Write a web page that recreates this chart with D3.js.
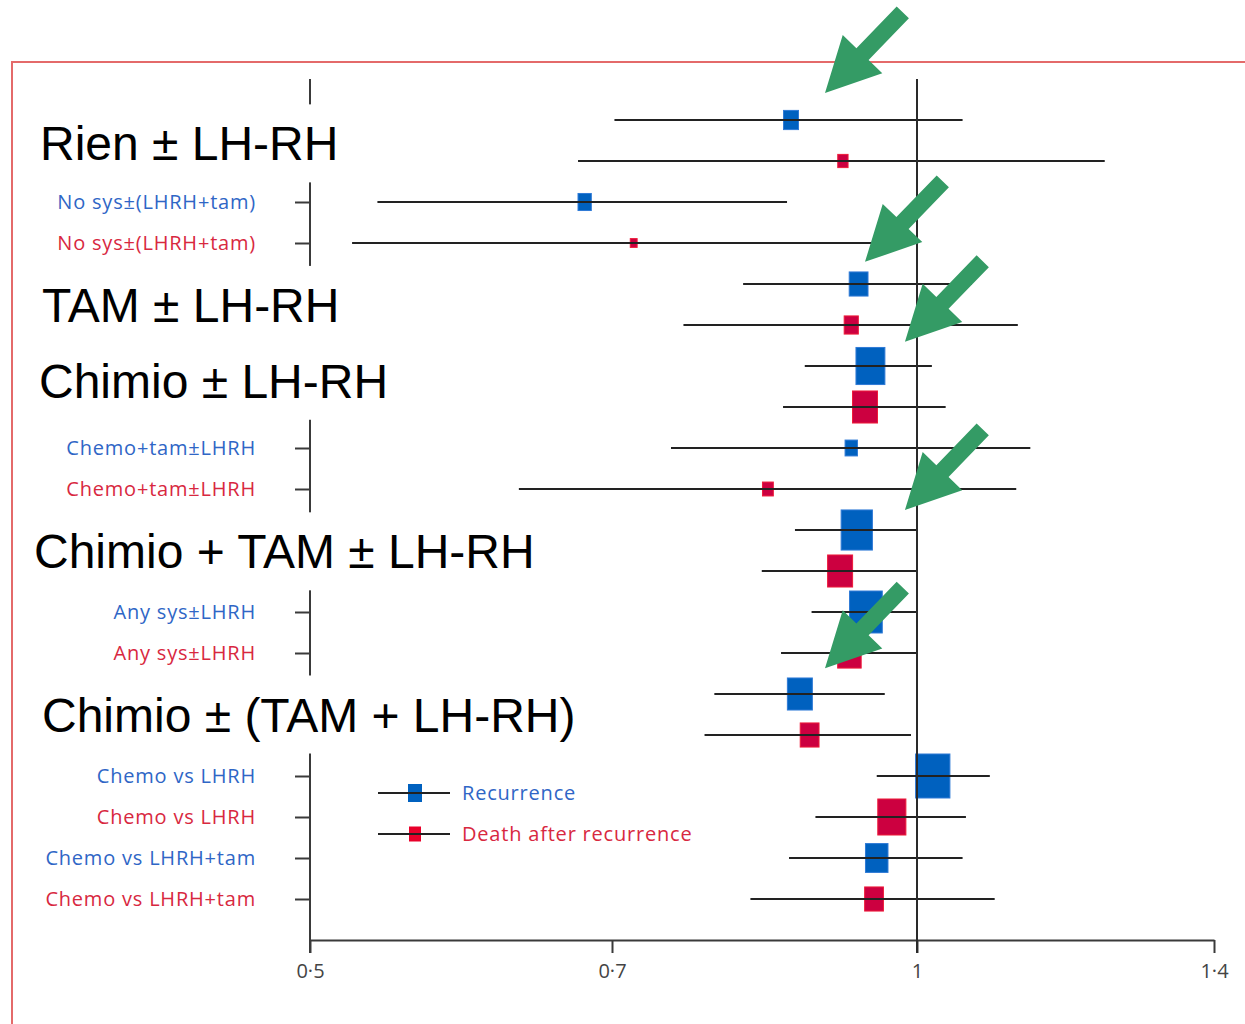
<!DOCTYPE html>
<html>
<head>
<meta charset="utf-8">
<script src="https://cdn.jsdelivr.net/npm/d3@7"></script>
<style>
  body { margin: 0; background: #fff; }
  svg { display: block; }
  .lbl { font-family: "Open Sans", sans-serif; font-size: 20px; letter-spacing: 0.8px; }
  .title { font-family: "Liberation Sans", Arial, sans-serif; font-size: 48px; fill: #000; }
  .xaxis text { font-family: "Open Sans", sans-serif; font-size: 20px; fill: #444; }
</style>
</head>
<body>
<div id="chart"></div>
<script>
// chart data, one entry per row (top to bottom)
const rowLabels = ["", "", "No sys±(LHRH+tam)", "No sys±(LHRH+tam)", "", "", "", "",
  "Chemo+tam±LHRH", "Chemo+tam±LHRH", "", "", "Any sys±LHRH", "Any sys±LHRH", "", "",
  "Chemo vs LHRH", "Chemo vs LHRH", "Chemo vs LHRH+tam", "Chemo vs LHRH+tam"];
const outcomes = ["Recurrence", "Death after recurrence"];
const estimates = [0.863, 0.917, 0.679, 0.718, 0.934, 0.926, 0.947, 0.941, 0.926, 0.840,
  0.932, 0.914, 0.942, 0.924, 0.872, 0.882, 1.018, 0.971, 0.954, 0.951];
const lower = [0.702, 0.674, 0.539, 0.524, 0.816, 0.761, 0.877, 0.855, 0.750, 0.631,
  0.867, 0.834, 0.884, 0.853, 0.789, 0.780, 0.954, 0.888, 0.861, 0.823];
const upper = [1.053, 1.237, 0.859, 0.990, 1.064, 1.121, 1.017, 1.033, 1.137, 1.119,
  1.0, 1.0, 1.0, 1.0, 0.963, 0.993, 1.086, 1.057, 1.053, 1.092];
const weights = [19, 9, 15, 4, 30, 17, 71, 53, 13, 10, 83, 53, 91, 47, 53, 30, 100, 67, 43, 30];
const tickValues = [0.5, 0.7, 1, 1.4];

// overlay headings and arrows (annotations)
const groupTitles = ["Rien ± LH-RH", "TAM ± LH-RH", "Chimio ± LH-RH", "Chimio + TAM ± LH-RH", "Chimio ± (TAM + LH-RH)"];
const titleRows = [0.57, 4.51, 6.36, 10.52, 14.5];
const titleX = [40, 42, 39, 34, 42];
const arrowRows = [-0.66, 3.46, 5.41, 9.51, 13.37];
const arrowValues = [0.898, 0.941, 0.986, 0.986, 0.898];

const width = 1245, height = 1024;
const blue = "#0061bf", blueText = "#2f66c6";
const red = "#cc0040", redText = "#d8283f";

const svg = d3.select("#chart").append("svg")
  .attr("width", width)
  .attr("height", height);

// log scale, piecewise to follow the printed axis
const x = d3.scaleLog()
  .domain(tickValues)
  .range([310, 612, 917, 1214]);

const y = d3.scaleLinear()
  .domain([0, rowLabels.length - 1])
  .range([120, 899]);

const size = d3.scaleSqrt().domain([0, 100]).range([0, 44]);

const rows = estimates.map((e, i) => ({
  i, est: e, lo: lower[i], hi: upper[i], w: weights[i],
  label: rowLabels[i], outcome: outcomes[i % 2]
}));
const colorOf = d => d.outcome === outcomes[0] ? blue : red;

// frame
svg.append("path")
  .attr("d", `M${width},62H12V${height}`)
  .attr("fill", "none")
  .attr("stroke", "#e46a6a")
  .attr("stroke-width", 2);

const axisBottomY = 940;

// y axis
svg.append("line")
  .attr("x1", 310).attr("x2", 310)
  .attr("y1", y(-1)).attr("y2", axisBottomY + 13)
  .attr("stroke", "#3a3a3a").attr("stroke-width", 2);

const yAxis = svg.append("g")
  .attr("transform", "translate(310,0)")
  .call(d3.axisLeft(y).tickValues(d3.range(rowLabels.length)).tickSize(15).tickFormat(""));
yAxis.select(".domain").remove();
yAxis.selectAll("line").attr("stroke", "#3a3a3a").attr("stroke-width", 2);

// x axis
const xAxis = svg.append("g")
  .attr("class", "xaxis")
  .attr("transform", `translate(0,${axisBottomY})`)
  .call(d3.axisBottom(x).tickValues(tickValues).tickSize(13).tickSizeOuter(0)
    .tickFormat(d => String(d).replace(".", "·")));
xAxis.select(".domain").attr("stroke", "#3a3a3a").attr("stroke-width", 2);
xAxis.selectAll(".tick line").attr("stroke", "#3a3a3a").attr("stroke-width", 2);
xAxis.selectAll(".tick text").attr("dy", "1.1em");

// row labels
svg.append("g")
  .selectAll("text")
  .data(rows.filter(d => d.label))
  .join("text")
    .attr("class", "lbl")
    .attr("x", 256)
    .attr("y", d => y(d.i))
    .attr("dy", "0.35em")
    .attr("text-anchor", "end")
    .attr("fill", d => d.outcome === outcomes[0] ? blueText : redText)
    .text(d => d.label);

// boxes
svg.append("g")
  .selectAll("rect")
  .data(rows)
  .join("rect")
    .attr("x", d => x(d.est) - size(d.w) * 0.39)
    .attr("y", d => y(d.i) - size(d.w) / 2)
    .attr("width", d => size(d.w) * 0.78)
    .attr("height", d => size(d.w))
    .attr("fill", colorOf)
    .attr("stroke", d => d.outcome === outcomes[0] ? "#2f7ad6" : "#ee1c3a")
    .attr("stroke-width", 1);

// confidence intervals
svg.append("g")
  .selectAll("line")
  .data(rows)
  .join("line")
    .attr("x1", d => x(d.lo))
    .attr("x2", d => x(d.hi))
    .attr("y1", d => y(d.i))
    .attr("y2", d => y(d.i))
    .attr("stroke", "#222")
    .attr("stroke-width", 1.8);

// line of no effect
svg.append("line")
  .attr("x1", x(1)).attr("x2", x(1))
  .attr("y1", y(-1)).attr("y2", axisBottomY + 13)
  .attr("stroke", "#2a2a2a").attr("stroke-width", 2);

// legend
const legend = svg.append("g").attr("transform", "translate(378,793)");
outcomes.forEach((o, i) => {
  const g = legend.append("g").attr("transform", `translate(0,${i * 41})`);
  const h = i ? 15 : 18, w = i ? 12 : 14;
  g.append("rect")
    .attr("x", 37 - w / 2).attr("y", -h / 2)
    .attr("width", w).attr("height", h)
    .attr("fill", i ? "#e8002a" : blue);
  g.append("line")
    .attr("x1", 0).attr("x2", 72)
    .attr("stroke", "#222").attr("stroke-width", 1.8);
  g.append("text")
    .attr("class", "lbl")
    .attr("x", 84).attr("dy", "0.35em")
    .attr("fill", i ? redText : blueText)
    .text(o);
});

// overlay headings on white boxes
const titles = svg.append("g");
groupTitles.forEach((t, i) => {
  const cy = y(titleRows[i]);
  const bg = titles.append("rect").attr("fill", "#fff");
  const txt = titles.append("text")
    .attr("class", "title")
    .attr("x", titleX[i])
    .attr("y", cy + 17)
    .text(t);
  const bb = txt.node().getBBox();
  bg.attr("x", titleX[i] - 6).attr("y", cy - 39)
    .attr("width", bb.width + 14).attr("height", 78);
});

// green arrows
const arrowShape = "M0,0L-54,-27.5L-54,-8.5L-112,-8.5L-112,8.5L-54,8.5L-54,27.5Z";
svg.append("g")
  .selectAll("path")
  .data(arrowRows.map((r, i) => ({ r, v: arrowValues[i] })))
  .join("path")
    .attr("d", arrowShape)
    .attr("transform", d => `translate(${x(d.v)},${y(d.r)}) rotate(134)`)
    .attr("fill", "#349b65");
</script>
</body>
</html>
